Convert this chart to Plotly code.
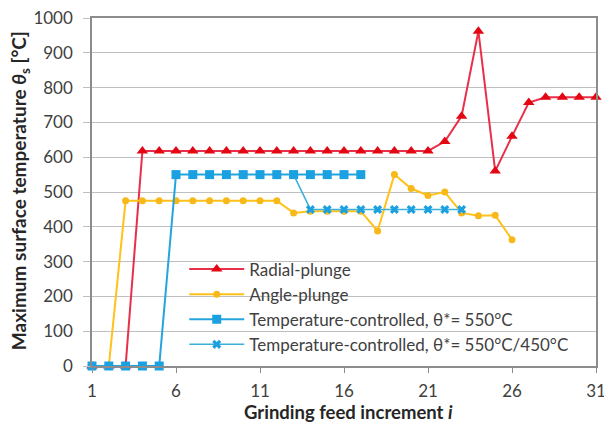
import plotly.graph_objects as go

x_radial = list(range(1, 32))
y_radial = [0, 0, 0] + [618] * 18 + [645, 718, 962, 560, 660, 757, 772, 772, 772, 772]

x_angle = list(range(1, 27))
y_angle = [0, 0] + [475] * 10 + [440, 445, 445, 445, 445, 388, 550, 510, 490, 500, 440, 432, 433, 363]

x_tc550 = list(range(1, 18))
y_tc550 = [0] * 5 + [550] * 12

x_tc450 = list(range(13, 24))
y_tc450 = [550] + [450] * 10

names = ["Radial-plunge", "Angle-plunge",
         "Temperature-controlled, θ*= 550°C",
         "Temperature-controlled, θ*= 550°C/450°C"]
x_ticks = [1, 6, 11, 16, 21, 26, 31]

FONT = "Lato"
fig = go.Figure()
fig.add_trace(go.Scatter(x=x_radial, y=y_radial, name=names[0], mode="lines+markers",
                         line=dict(color="#E8304A", width=2),
                         marker=dict(symbol="triangle-up", size=10, color="#E30613"),
                         cliponaxis=False))
fig.add_trace(go.Scatter(x=x_angle, y=y_angle, name=names[1], mode="lines+markers",
                         line=dict(color="#FFC21A", width=2),
                         marker=dict(symbol="circle", size=7, color="#F7B91A"),
                         cliponaxis=False))
fig.add_trace(go.Scatter(x=x_tc550, y=y_tc550, name=names[2], mode="lines+markers",
                         line=dict(color="#26A4DF", width=2),
                         marker=dict(symbol="square", size=9, color="#1BA1E2"),
                         cliponaxis=False))
fig.add_trace(go.Scatter(x=x_tc450, y=y_tc450, name=names[3], mode="lines+markers",
                         line=dict(color="#3BB0D8", width=1.5),
                         marker=dict(symbol="x", size=8, color="#1BA1E2"),
                         cliponaxis=False))

fig.add_shape(type="rect", xref="paper", yref="paper", x0=0.17, x1=0.99, y0=0.03, y1=0.31,
              fillcolor="white", line=dict(width=0), layer="between")

fig.add_annotation(text="<b>Maximum surface temperature <i>θ</i><sub>s</sub> [°C]</b>",
                   xref="paper", yref="paper", x=-0.143, y=0.505, textangle=-90,
                   showarrow=False, xanchor="center", yanchor="middle",
                   font=dict(family=FONT, size=19, color="#262626"))
fig.add_annotation(text="<b>Grinding feed increment <i>i</i></b>",
                   xref="paper", yref="paper", x=0.509, y=-0.133,
                   showarrow=False, xanchor="center", yanchor="middle",
                   font=dict(family=FONT, size=18.5, color="#262626"))

fig.update_layout(
    width=604, height=422,
    margin=dict(l=92, r=8, t=18, b=56),
    paper_bgcolor="white", plot_bgcolor="white",
    font=dict(family=FONT, size=17, color="#404040"),
    showlegend=True,
    legend=dict(x=0.183, y=0.329, xanchor="left", yanchor="top",
                bgcolor="rgba(0,0,0,0)", font=dict(size=17, color="#404040"),
                tracegroupgap=0, itemwidth=55),
    xaxis=dict(range=[1, 31], tickvals=x_ticks, ticktext=[str(v) for v in x_ticks],
               showgrid=False, zeroline=False, showline=True, linecolor="#8C8C8C",
               linewidth=1.5, mirror=True, ticks="outside", ticklen=5, tickcolor="#8C8C8C",
               ticklabelstandoff=4, ticklabeloverflow="allow",
               tickfont=dict(size=17, color="#404040"), automargin=False),
    yaxis=dict(range=[0, 1000], dtick=100, showgrid=True, gridcolor="#BFBFBF", gridwidth=1.2,
               zeroline=False, showline=True, linecolor="#8C8C8C", linewidth=1.5, mirror=True,
               ticks="outside", ticklen=7, tickcolor="#BFBFBF", ticklabelstandoff=7,
               tickfont=dict(size=17, color="#404040"), automargin=False),
)

fig.write_html("out.html", config={"displayModeBar": False},
               post_script="document.body.style.margin='0';")
